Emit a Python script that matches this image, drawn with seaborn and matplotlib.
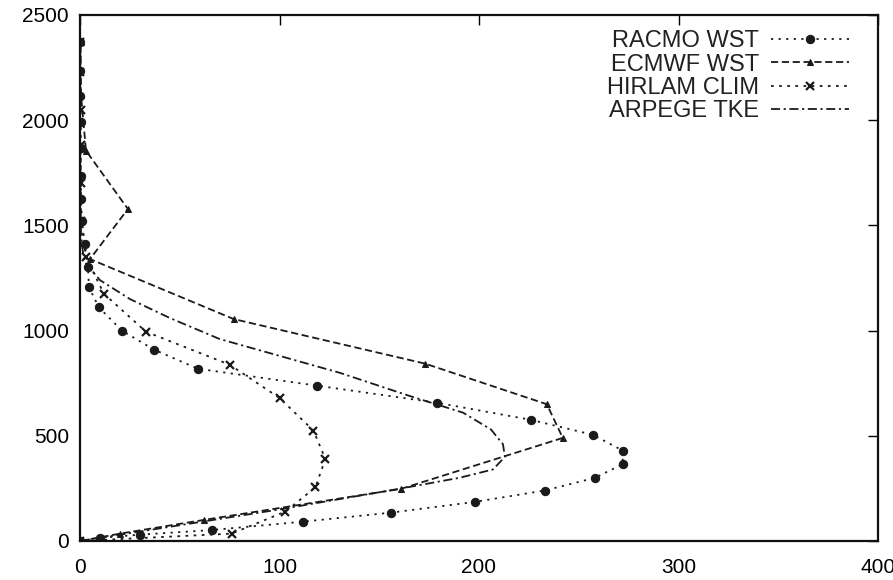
import matplotlib
matplotlib.use("Agg")
import matplotlib.pyplot as plt
import seaborn as sns
import pandas as pd

# ---- data ----
racmo_x = [0, 10, 30, 66, 112, 156, 198, 233, 258, 272, 272, 257, 226, 179, 119, 59, 37, 21, 9.5, 4.5, 4, 2.5, 1, 0.5, 0.5, 0.3, 0.3, 0.2, 0.2, 0.1]
racmo_y = [0, 15, 30, 52, 92, 135, 186, 240, 300, 365, 430, 505, 576, 657, 738, 819, 910, 1000, 1110, 1205, 1300, 1410, 1520, 1625, 1735, 1870, 1990, 2115, 2235, 2370]

ecmwf_x = [0, 20, 62, 161, 242, 234, 173, 77, 5, 24, 3, 0.5, 0.3]
ecmwf_y = [0, 35, 100, 248, 490, 650, 843, 1055, 1340, 1578, 1855, 2120, 2370]

hirlam_x = [0, 76, 103, 118, 123, 117, 100, 75, 33, 12, 3, 0.5, 0.4, 0.3, 0.3, 0.2, 0.2]
hirlam_y = [0, 35, 140, 255, 390, 525, 680, 838, 995, 1175, 1348, 1520, 1700, 1880, 2050, 2230, 2370]

arpege_x = [0, 40, 100, 160, 190, 207, 213, 212, 206, 192, 165, 130, 100, 70, 45, 25, 10, 2, 0.5, 0.2, 0]
arpege_y = [0, 60, 150, 248, 300, 340, 400, 460, 530, 610, 690, 800, 880, 960, 1060, 1150, 1240, 1330, 1450, 1700, 1950]

labels = ["RACMO WST", "ECMWF WST", "HIRLAM CLIM", "ARPEGE TKE"]
x_ticks = [0, 100, 200, 300, 400]
y_ticks = [0, 500, 1000, 1500, 2000, 2500]

sns.set_theme(style="white")
plt.rcParams["font.family"] = ["Liberation Sans", "DejaVu Sans"]

fig = plt.figure(figsize=(8.93, 5.80), dpi=100)
ax = fig.add_axes([80 / 893, 1 - 541 / 580, 798 / 893, 526 / 580])

col = "#1a1a1a"
series = [
    (racmo_x, racmo_y, dict(linestyle=(0, (1.2, 3.0)), marker="o", markersize=6, linewidth=1.3)),
    (ecmwf_x, ecmwf_y, dict(linestyle=(0, (4, 2)), marker="^", markersize=4, linewidth=1.3)),
    (hirlam_x, hirlam_y, dict(linestyle=(0, (1.5, 3.0)), marker="x", markersize=5.5, markeredgewidth=1.6, linewidth=1.3)),
    (arpege_x, arpege_y, dict(linestyle=(0, (5, 2, 1.2, 2)), linewidth=1.3)),
]
for (xs, ys, kw), lab in zip(series, labels):
    df = pd.DataFrame({"x": xs, "y": ys})
    sns.lineplot(data=df, x="x", y="y", sort=False, estimator=None, color=col,
                 label=lab, ax=ax, markeredgecolor=col, markerfacecolor=col, **kw)

ax.set_xlim(0, 400)
ax.set_ylim(0, 2500)
ax.set_xticks(x_ticks)
ax.set_yticks(y_ticks)
ax.set_xlabel("")
ax.set_ylabel("")
ax.tick_params(direction="in", top=True, right=True, length=7, width=1.0,
               labelsize=15, colors="black")
ax.tick_params(axis="x", pad=12)
ax.tick_params(axis="y", pad=8)
for s in ax.spines.values():
    s.set_color("#111111")
    s.set_linewidth(1.6)

leg = ax.legend(loc="upper right", bbox_to_anchor=(0.978, 0.993), frameon=False,
                markerfirst=False, fontsize=17, handlelength=3.3, handletextpad=0.5,
                labelspacing=0.05, borderpad=0)
for t in leg.get_texts():
    t.set_color("#222222")

fig.savefig("out.png", dpi=100)
